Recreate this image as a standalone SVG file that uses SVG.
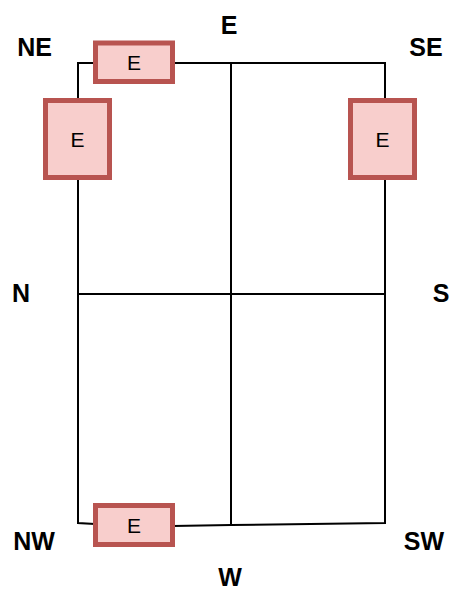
<svg xmlns="http://www.w3.org/2000/svg" width="453" height="592" viewBox="0 0 453 592">
<style>
.box{fill:#f8cecc;stroke:#b85450;stroke-width:5}
.bl{font-family:"Liberation Sans",Arial,sans-serif;font-size:21px;fill:#000;text-anchor:middle;dominant-baseline:central}
.lbl{font-family:"Liberation Sans",Arial,sans-serif;font-size:25px;font-weight:bold;fill:#000;text-anchor:middle}
.c{fill:none;stroke:#000;stroke-width:2}
</style>
<rect width="453" height="592" fill="#fff"/>
<g id="connectors">
<polyline class="c" points="78,98 78,63 95,63"/>
<polyline class="c" points="173,63 385,63 385,98"/>
<line class="c" x1="231" y1="63" x2="231" y2="525"/>
<line class="c" x1="78" y1="294" x2="385" y2="294"/>
<polyline class="c" points="78,180 78,523 95,524"/>
<polyline class="c" points="173,526 231,525 385,523 385,180"/>
</g>
<g id="node-top"><rect class="box" x="95.5" y="43" width="77" height="38.5"/><text class="bl" x="134" y="62">E</text></g>
<g id="node-left"><rect class="box" x="45.5" y="100.5" width="64" height="77"/><text class="bl" x="77.5" y="139">E</text></g>
<g id="node-right"><rect class="box" x="350.5" y="100.5" width="64" height="77"/><text class="bl" x="382.5" y="139">E</text></g>
<g id="node-bottom"><rect class="box" x="95.5" y="505.5" width="77" height="39"/><text class="bl" x="134" y="525">E</text></g>
<g id="labels">
<text class="lbl" x="34.5" y="56">NE</text>
<text class="lbl" x="229" y="34">E</text>
<text class="lbl" x="426" y="56">SE</text>
<text class="lbl" x="21" y="302">N</text>
<text class="lbl" x="441" y="302">S</text>
<text class="lbl" x="34" y="550">NW</text>
<text class="lbl" x="424" y="550">SW</text>
<text class="lbl" x="230" y="586">W</text>
</g>
</svg>
